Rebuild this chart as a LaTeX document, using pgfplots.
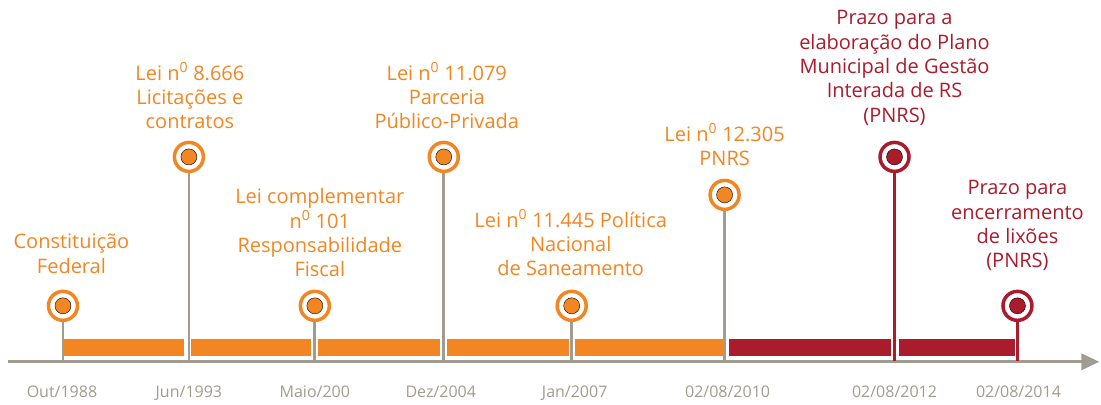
\documentclass[border=0pt]{standalone}
\usepackage{pgfplots}
\pgfplotsset{compat=1.18}
\usepackage{fontspec}
\setmainfont{Open Sans}
\usetikzlibrary{arrows.meta}
\definecolor{orC}{RGB}{241,134,35}
\definecolor{rdC}{RGB}{170,27,44}
\definecolor{grC}{RGB}{160,156,143}
\begin{document}
\begin{tikzpicture}
\begin{axis}[x=1pt,y=1pt,xmin=0,xmax=1101,ymin=0,ymax=401,
  hide axis, clip=false, scale only axis, unbounded coords=jump]
% frame for bounding box
\addplot[draw=none] coordinates {(0,0)(1101,401)};
% axis line with arrow
\addplot[grC, line width=3.2pt, -{Triangle[length=18pt,width=16pt]}] coordinates {(8,39)(1100,39)};
% orange bars
\addplot[orC, line width=17pt] coordinates {
 (64,53.5)(184,53.5) (nan,nan)
 (191,53.5)(311,53.5) (nan,nan)
 (318,53.5)(440,53.5) (nan,nan)
 (447,53.5)(569,53.5) (nan,nan)
 (575,53.5)(723,53.5)};
% red bars
\addplot[rdC, line width=17pt] coordinates {
 (729,53.5)(891,53.5) (nan,nan)
 (899,53.5)(1016,53.5)};
% grey stems
\addplot[grC, line width=2.7pt] coordinates {
 (63,40)(63,82) (nan,nan)
 (189,40)(189,231) (nan,nan)
 (315,40)(315,82) (nan,nan)
 (444,40)(444,231) (nan,nan)
 (572,40)(572,82) (nan,nan)
 (725,40)(725,193)};
% red stems
\addplot[rdC, line width=2.7pt] coordinates {
 (895,40)(895,231) (nan,nan)
 (1018,40)(1018,82)};
% orange markers
\addplot[only marks, mark=*, mark size=14.5pt, mark options={draw=orC, fill=white, line width=3.5pt}]
 coordinates {(63,95)(189,244)(315,95)(444,244)(572,95)(725,206)};
\addplot[only marks, mark=*, mark size=8pt, mark options={draw=none, fill=orC}]
 coordinates {(63,95)(189,244)(315,95)(444,244)(572,95)(725,206)};
% red markers
\addplot[only marks, mark=*, mark size=14.5pt, mark options={draw=rdC, fill=white, line width=3.5pt}]
 coordinates {(895,244)(1018,95)};
\addplot[only marks, mark=*, mark size=8pt, mark options={draw=none, fill=rdC}]
 coordinates {(895,244)(1018,95)};
% labels
\begin{scope}[every node/.style={align=center, font=\fontsize{20}{24.3}\selectfont}]
\node[orC] at (axis cs:71.5,147) {Constituição\\Federal};
\node[orC] at (axis cs:190,305) {Lei n\textsuperscript{0} 8.666\\Licitações e\\contratos};
\node[orC] at (axis cs:320,168) {Lei complementar\\n\textsuperscript{0} 101\\Responsabilidade\\Fiscal};
\node[orC] at (axis cs:447,305) {Lei n\textsuperscript{0} 11.079\\Parceria\\Público-Privada};
\node[orC] at (axis cs:571,158) {Lei n\textsuperscript{0} 11.445 Política\\Nacional\\de Saneamento};
\node[orC] at (axis cs:725,256.5) {Lei n\textsuperscript{0} 12.305\\PNRS};
\node[rdC] at (axis cs:895,333) {Prazo para a\\elaboração do Plano\\Municipal de Gestão\\Interada de RS\\(PNRS)};
\node[rdC] at (axis cs:1018,175) {Prazo para\\encerramento\\de lixões\\(PNRS)};
\end{scope}
\begin{scope}[every node/.style={grC, anchor=base, font=\fontsize{16}{18}\selectfont}]
\node at (axis cs:62,3) {Out/1988};
\node at (axis cs:189,3) {Jun/1993};
\node at (axis cs:315,3) {Maio/200};
\node at (axis cs:441,3) {Dez/2004};
\node at (axis cs:575,3) {Jan/2007};
\node at (axis cs:728,3) {02/08/2010};
\node at (axis cs:895,3) {02/08/2012};
\node at (axis cs:1019,3) {02/08/2014};
\end{scope}
\end{axis}
\end{tikzpicture}
\end{document}
